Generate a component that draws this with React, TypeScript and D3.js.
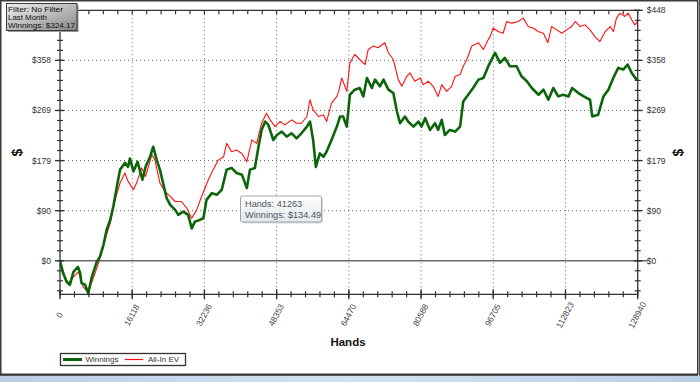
import React from 'react';
import * as d3 from 'd3';

// ---- Data ----
const winHands = [0, 700, 1500, 2200, 3000, 4000, 4500, 4800, 5600, 6300, 7100, 8200, 8900, 9700, 10400, 11200, 11900, 12700, 13400, 14500, 15200, 15600, 16400, 17300, 18400, 19100, 20100, 20800, 21600, 22300, 23100, 23800, 24600, 25700, 26400, 27500, 28600, 29400, 30100, 31200, 32000, 32700, 33900, 35000, 36100, 37200, 38300, 39400, 40600, 41700, 42400, 43500, 44300, 45000, 45800, 46500, 47600, 48400, 49500, 50600, 51700, 52800, 53900, 55100, 55800, 56500, 57100, 58000, 58800, 59500, 60600, 61800, 62500, 63200, 64000, 64700, 65800, 66900, 67700, 68500, 69600, 70300, 71400, 72200, 73300, 74400, 75200, 75900, 77000, 77700, 78900, 80000, 80700, 81500, 82600, 83700, 84400, 85200, 85900, 87000, 88200, 89300, 90000, 91100, 92200, 93400, 94500, 95600, 97100, 98200, 99300, 100400, 101900, 103000, 104200, 105300, 106800, 107900, 109000, 110100, 111200, 112300, 113500, 114300, 115700, 116900, 118300, 118800, 120100, 121300, 122400, 123500, 124600, 125700, 126700, 127600, 128700, 128940];
const winValues = [0, -22, -38, -43, -20, -11, -22, -40, -43, -58, -29, -2, 7, 28, 55, 73, 97, 133, 163, 175, 168, 183, 160, 177, 145, 168, 186, 204, 180, 163, 136, 112, 100, 91, 82, 88, 82, 58, 70, 73, 76, 109, 121, 118, 127, 163, 166, 157, 154, 130, 163, 166, 204, 234, 249, 243, 216, 225, 231, 222, 228, 219, 228, 240, 249, 216, 168, 192, 186, 195, 216, 240, 258, 258, 240, 297, 306, 309, 294, 327, 309, 324, 312, 324, 306, 300, 267, 246, 258, 249, 240, 249, 240, 255, 234, 246, 234, 252, 225, 234, 231, 240, 285, 297, 309, 324, 327, 348, 372, 354, 363, 348, 348, 330, 321, 309, 297, 306, 288, 309, 294, 297, 294, 309, 300, 294, 288, 258, 261, 294, 306, 327, 345, 342, 351, 336, 324, 324.17];

const evHands = [0, 700, 1900, 3000, 4100, 5200, 6300, 7800, 8900, 10000, 11200, 12300, 13400, 14500, 15200, 16400, 17100, 18200, 19100, 20500, 21200, 22300, 23400, 24600, 25700, 27100, 28300, 29400, 30500, 31600, 33100, 34200, 35300, 36500, 37200, 38300, 39400, 40600, 41700, 42800, 43900, 45000, 46100, 46900, 48000, 49100, 50200, 51700, 52800, 53900, 55100, 55800, 56500, 57700, 58800, 59500, 60600, 61800, 62300, 62900, 64000, 64700, 65800, 66900, 68100, 68800, 69900, 71000, 72500, 73300, 74400, 75500, 76300, 77400, 78100, 79200, 80400, 81100, 82200, 83300, 84400, 85200, 86300, 87400, 88200, 89300, 90000, 90800, 91900, 93400, 94500, 95600, 96000, 96700, 97800, 98900, 99700, 100800, 102300, 103400, 104500, 105700, 106700, 107900, 108900, 109700, 110900, 112000, 113100, 114200, 115000, 116100, 117200, 118300, 119400, 120500, 121700, 122800, 123500, 124200, 125000, 126100, 126800, 127600, 128300, 128940];
const evValues = [0, -25, -40, -29, -20, -47, -56, -23, 4, 37, 67, 109, 139, 157, 142, 127, 139, 166, 151, 190, 180, 139, 124, 115, 106, 106, 94, 76, 91, 115, 145, 163, 180, 186, 210, 195, 198, 192, 177, 216, 210, 246, 264, 252, 240, 249, 243, 252, 246, 246, 258, 288, 270, 258, 261, 249, 282, 294, 306, 327, 303, 354, 369, 360, 351, 378, 384, 381, 390, 372, 360, 324, 312, 330, 336, 321, 327, 315, 321, 312, 294, 315, 303, 312, 330, 333, 348, 360, 384, 390, 378, 396, 401, 416, 410, 407, 428, 425, 428, 434, 419, 416, 410, 407, 390, 419, 413, 407, 413, 419, 428, 419, 422, 413, 401, 392, 410, 419, 410, 434, 443, 437, 443, 431, 422, 428];

const xTickLabels = ['0', '16118', '32236', '48353', '64470', '80588', '96705', '112823', '128940'];
const yTickLabels = ['$0', '$90', '$179', '$269', '$358', '$448'];
const totalHands = 128940;
const yMin = -60;
const yMax = 448;
const seriesNames = ['Winnings', 'All-In EV'];
const filterLines = ['Filter: No Filter', 'Last Month', 'Winnings: $324.17'];
const filterWidths = [55, 39, 67];
const tooltipLines = ['Hands: 41263', 'Winnings: $134.49'];

const GREEN = '#0b660b';
const RED = '#ff1010';
const FONT = '"Liberation Sans", Arial, sans-serif';

export default function App() {
  const L = 60, R = 637.7, T = 10.3, B = 294.3;
  const x = d3.scaleLinear().domain([0, totalHands]).range([L, R]);
  const y = d3.scaleLinear().domain([yMin, yMax]).range([B, T]);

  const yStep = yMax / (yTickLabels.length - 1);
  const majorY = d3.range(0, yTickLabels.length).map((i) => yStep * i);
  const minorY: number[] = [];
  for (let v = -3 * yStep / 5; v <= yMax + 0.01; v += yStep / 5) minorY.push(v);
  const xStep = totalHands / (xTickLabels.length - 1);
  const majorX = xTickLabels.map((_, i) => xStep * i);
  const minorX: number[] = [];
  for (let i = 0; i <= (xTickLabels.length - 1) * 5; i++) minorX.push((xStep / 5) * i);

  const winData = winHands.map((h, i) => [h, winValues[i]] as [number, number]);
  const evData = evHands.map((h, i) => [h, evValues[i]] as [number, number]);
  const line = d3.line<[number, number]>().x((d) => x(d[0])).y((d) => y(d[1]));

  return (
    <svg width={700} height={382} style={{ position: 'absolute', left: 0, top: 0, background: '#fff' }} fontFamily={FONT}>
      <defs>
        <linearGradient id="fbox" x1="0" y1="0" x2="1" y2="1">
          <stop offset="0" stopColor="#eeeeee" />
          <stop offset="0.5" stopColor="#bdbdbd" />
          <stop offset="1" stopColor="#858585" />
        </linearGradient>
        <linearGradient id="tbox" x1="0" y1="0" x2="0" y2="1">
          <stop offset="0" stopColor="#ffffff" />
          <stop offset="1" stopColor="#e3e7ee" />
        </linearGradient>
        <linearGradient id="bstrip" x1="0" y1="0" x2="1" y2="0">
          <stop offset="0" stopColor="#b9cfe6" />
          <stop offset="0.5" stopColor="#d3e2f1" />
          <stop offset="1" stopColor="#b9cfe6" />
        </linearGradient>
        <clipPath id="plot">
          <rect x={L} y={T} width={R - L} height={B - T} />
        </clipPath>
      </defs>

      {/* window frame */}
      <rect x={0} y={0} width={700} height={382} fill="#fff" />
      <rect x={0} y={376} width={700} height={6} fill="url(#bstrip)" />
      <rect x={0.75} y={0.75} width={697} height={373.5} fill="none" stroke="#3a3a3a" strokeWidth={1.5} />
      <line x1={0} x2={698} y1={375.5} y2={375.5} stroke="#555" strokeWidth={1} />
      <line x1={699.5} x2={699.5} y1={0} y2={376} stroke="#555" strokeWidth={1} />

      {/* grid */}
      {majorY.slice(1, -1).map((v, i) => (
        <line key={'gy' + i} x1={L} x2={R} y1={y(v)} y2={y(v)} stroke="#666" strokeWidth={1} strokeDasharray="1,3" />
      ))}
      {majorX.slice(1, -1).map((v, i) => (
        <line key={'gx' + i} x1={x(v)} x2={x(v)} y1={T} y2={B} stroke="#666" strokeWidth={1} strokeDasharray="1,3" />
      ))}
      <line x1={L} x2={R + 10} y1={y(0)} y2={y(0)} stroke="#6a6a6a" strokeWidth={1.6} />

      {/* series */}
      <g clipPath="url(#plot)">
        <path d={line(evData) || ''} fill="none" stroke={RED} strokeWidth={1.1} strokeLinejoin="round" />
        <path d={line(winData) || ''} fill="none" stroke={GREEN} strokeWidth={2.6} strokeLinejoin="round" />
      </g>

      {/* axes lines */}
      <g stroke="#333" strokeWidth={1.3} fill="none">
        <line x1={L} x2={R} y1={B} y2={B} />
        <line x1={L} x2={R} y1={T} y2={T} />
        <line x1={L} x2={L} y1={T} y2={B} />
        <line x1={R} x2={R} y1={T} y2={B} />
      </g>
      {/* y ticks */}
      {minorY.map((v, i) => (
        <g key={'my' + i} stroke="#333" strokeWidth={1.2}>
          <line x1={L - 3} x2={L + 3} y1={y(v)} y2={y(v)} />
          <line x1={R - 3} x2={R + 3} y1={y(v)} y2={y(v)} />
        </g>
      ))}
      {majorY.map((v, i) => (
        <g key={'My' + i} stroke="#333" strokeWidth={1.3}>
          <line x1={L - 5} x2={L + 4} y1={y(v)} y2={y(v)} />
          <line x1={R - 4} x2={R + 5} y1={y(v)} y2={y(v)} />
        </g>
      ))}
      {/* x ticks */}
      {minorX.map((v, i) => (
        <g key={'mx' + i} stroke="#333" strokeWidth={1.2}>
          <line x1={x(v)} x2={x(v)} y1={B - 3} y2={B + 3} />
          <line x1={x(v)} x2={x(v)} y1={T} y2={T + 4} />
        </g>
      ))}
      {majorX.map((v, i) => (
        <line key={'Mx' + i} x1={x(v)} x2={x(v)} y1={B - 5} y2={B + 5} stroke="#333" strokeWidth={1.3} />
      ))}

      {/* y labels (left top label is hidden behind the filter box in the reference) */}
      {majorY.map((v, i) => (
        <g key={'ly' + i} fontSize={8.5} fill="#333">
          {i < majorY.length - 1 && (
            <text x={L - 9} y={y(v)} dy="0.35em" textAnchor="end">{yTickLabels[i]}</text>
          )}
          <text x={R + 9} y={y(v)} dy="0.35em" textAnchor="start">{yTickLabels[i]}</text>
        </g>
      ))}
      {/* x labels */}
      {majorX.map((v, i) => (
        <text key={'lx' + i} transform={`translate(${x(v) - 0.5},${315}) rotate(-62)`} fontSize={8.5} fill="#3d4450" textAnchor="middle" dy="0.35em">
          {xTickLabels[i]}
        </text>
      ))}

      {/* axis titles */}
      <text x={348} y={342} dy="0.35em" textAnchor="middle" fontSize={11.5} fontWeight="bold" fill="#111">Hands</text>
      <text transform="translate(17.5,152.5) rotate(-90)" textAnchor="middle" dy="0.35em" fontSize={14} fontWeight="bold" fill="#111">$</text>
      <text transform="translate(678,152.5) rotate(-90)" textAnchor="middle" dy="0.35em" fontSize={14} fontWeight="bold" fill="#111">$</text>

      {/* filter box */}
      <rect x={8} y={5} width={70.5} height={27} fill="#999" />
      <rect x={6.5} y={3.5} width={70.5} height={27} fill="url(#fbox)" stroke="#3a3a3a" strokeWidth={1} />
      {filterLines.map((t, i) => (
        <text key={'f' + i} x={8} y={9 + i * 8.3} dy="0.35em" fontSize={8} fill="#111"
          textLength={filterWidths[i]} lengthAdjust="spacingAndGlyphs">{t}</text>
      ))}

      {/* tooltip */}
      <rect x={242} y={197.5} width={81} height={26} rx={2} fill="#d8dade" />
      <rect x={240.5} y={196} width={81} height={26} rx={2} fill="url(#tbox)" stroke="#a0a5ad" strokeWidth={1} />
      {tooltipLines.map((t, i) => (
        <text key={'t' + i} x={245} y={203.5 + i * 11} dy="0.35em" fontSize={9.2} fill="#505560">{t}</text>
      ))}

      {/* legend */}
      <rect x={60.5} y={353.5} width={125} height={12} fill="#fff" stroke="#333" strokeWidth={1.3} />
      <line x1={63} x2={82} y1={359.5} y2={359.5} stroke={GREEN} strokeWidth={3} />
      <text x={85.5} y={359.5} dy="0.35em" fontSize={8} fill="#333">{seriesNames[0]}</text>
      <line x1={125} x2={143} y1={359.5} y2={359.5} stroke={RED} strokeWidth={1.2} />
      <text x={148} y={359.5} dy="0.35em" fontSize={8} fill="#333">{seriesNames[1]}</text>
    </svg>
  );
}
